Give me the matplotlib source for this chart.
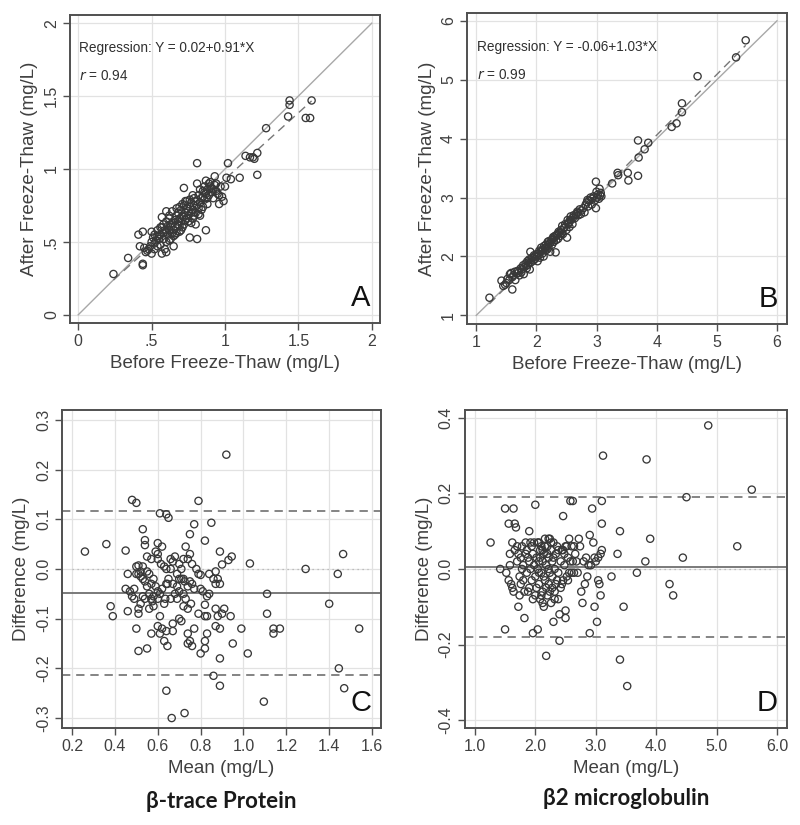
import numpy as np
import matplotlib
matplotlib.use("Agg")
import matplotlib.pyplot as plt

plt.rcParams['font.family'] = ['Liberation Sans', 'DejaVu Sans']

# --- Panel A: beta-trace protein, before vs after freeze-thaw (mg/L)
btp_before = [0.24, 0.34, 0.44, 0.44, 0.41, 0.44, 0.42, 0.45, 0.46, 0.47, 0.48, 0.50, 0.49, 0.50,
              0.51, 0.50, 0.52, 0.52, 0.53, 0.54, 0.54, 0.55, 0.55, 0.56, 0.56, 0.57, 0.57, 0.58,
              0.58, 0.59, 0.59, 0.60, 0.60, 0.60, 0.61, 0.61, 0.62, 0.62, 0.63, 0.63, 0.64, 0.64,
              0.65, 0.65, 0.66, 0.66, 0.67, 0.67, 0.68, 0.68, 0.69, 0.69, 0.70, 0.70, 0.71, 0.71,
              0.72, 0.72, 0.72, 0.73, 0.73, 0.74, 0.74, 0.75, 0.75, 0.76, 0.76, 0.77, 0.77, 0.78,
              0.78, 0.79, 0.79, 0.80, 0.80, 0.81, 0.81, 0.81, 0.82, 0.82, 0.83, 0.83, 0.84, 0.85,
              0.85, 0.86, 0.86, 0.87, 0.87, 0.88, 0.88, 0.89, 0.90, 0.90, 0.91, 0.92, 0.92, 0.93,
              0.94, 0.95, 0.96, 0.97, 0.98, 0.99, 1.00, 1.01, 1.02, 1.04, 1.10, 1.14, 1.17, 1.19,
              1.20, 1.22, 1.22, 1.28, 1.43, 1.44, 1.44, 1.55, 1.58, 1.59, 0.63, 0.65, 0.68, 0.70,
              0.71, 0.74, 0.76, 0.78, 0.80, 0.82, 0.84, 0.86, 0.88, 0.60, 0.58, 0.56, 0.54, 0.52,
              0.62, 0.66, 0.69, 0.73, 0.75, 0.77, 0.79, 0.83, 0.85, 0.89, 0.91, 0.94, 0.96, 0.57,
              0.62, 0.67, 0.72, 0.60, 0.64, 0.69, 0.81, 0.87, 0.93]
btp_after = [0.28, 0.39, 0.35, 0.34, 0.55, 0.57, 0.47, 0.46, 0.43, 0.44, 0.45, 0.42, 0.47, 0.50,
             0.53, 0.57, 0.49, 0.55, 0.51, 0.47, 0.58, 0.52, 0.54, 0.55, 0.48, 0.67, 0.60, 0.56,
             0.62, 0.45, 0.58, 0.43, 0.64, 0.71, 0.61, 0.55, 0.58, 0.66, 0.60, 0.52, 0.63, 0.71,
             0.47, 0.58, 0.65, 0.61, 0.56, 0.68, 0.62, 0.70, 0.57, 0.66, 0.72, 0.64, 0.68, 0.60,
             0.75, 0.67, 0.87, 0.70, 0.65, 0.73, 0.78, 0.68, 0.71, 0.74, 0.53, 0.70, 0.77, 0.72,
             0.66, 0.80, 0.75, 0.70, 0.78, 1.04, 0.52, 0.90, 0.73, 0.82, 0.77, 0.68, 0.80, 0.85,
             0.74, 0.79, 0.84, 0.58, 0.92, 0.86, 0.76, 0.82, 0.88, 0.91, 0.84, 0.80, 0.86, 0.95,
             0.85, 0.83, 0.76, 0.88, 0.81, 0.78, 0.88, 0.94, 1.04, 0.93, 0.94, 1.09, 1.08, 1.08,
             1.07, 1.11, 0.96, 1.28, 1.36, 1.44, 1.47, 1.35, 1.35, 1.47, 0.62, 0.54, 0.64, 0.58,
             0.76, 0.66, 0.79, 0.82, 0.62, 0.69, 0.72, 0.88, 0.80, 0.57, 0.52, 0.60, 0.54, 0.45,
             0.51, 0.55, 0.61, 0.78, 0.64, 0.63, 0.68, 0.86, 0.81, 0.90, 0.87, 0.90, 0.82, 0.42,
             0.68, 0.73, 0.62, 0.50, 0.56, 0.74, 0.75, 0.83, 0.89]
btp_reg = (0.02, 0.91)
btp_r = 0.94

# --- Panel B: beta2 microglobulin, before vs after (mg/L)
b2m_before = [1.22, 1.42, 1.45, 1.48, 1.50, 1.52, 1.55, 1.56, 1.58, 1.60, 1.60, 1.62, 1.64, 1.65,
              1.68, 1.70, 1.72, 1.74, 1.76, 1.78, 1.79, 1.80, 1.82, 1.84, 1.85, 1.86, 1.88, 1.89,
              1.90, 1.91, 1.93, 1.95, 1.97, 1.98, 2.00, 2.02, 2.03, 2.05, 2.06, 2.07, 2.08, 2.10,
              2.11, 2.12, 2.13, 2.15, 2.16, 2.18, 2.19, 2.20, 2.22, 2.23, 2.25, 2.26, 2.28, 2.29,
              2.31, 2.32, 2.33, 2.35, 2.36, 2.38, 2.40, 2.41, 2.43, 2.44, 2.46, 2.48, 2.50, 2.51,
              2.52, 2.54, 2.55, 2.57, 2.58, 2.60, 2.62, 2.64, 2.66, 2.68, 2.70, 2.72, 2.75, 2.78,
              2.80, 2.82, 2.84, 2.86, 2.88, 2.90, 2.92, 2.95, 2.97, 2.99, 2.99, 3.00, 3.02, 3.04,
              3.05, 3.07, 3.08, 3.26, 3.35, 3.36, 3.52, 3.53, 3.69, 3.70, 3.69, 3.80, 3.86, 4.25,
              4.33, 4.42, 4.42, 4.68, 5.32, 5.48, 1.70, 1.75, 1.83, 1.87, 1.92, 1.96, 2.01, 2.04,
              2.09, 2.14, 2.17, 2.21, 2.24, 2.27, 2.30, 2.34, 2.37, 2.42, 2.47, 2.53, 2.56, 2.61,
              2.69, 2.74, 2.85, 2.93, 3.01, 3.06]
b2m_after = [1.30, 1.59, 1.50, 1.52, 1.55, 1.62, 1.60, 1.70, 1.72, 1.44, 1.65, 1.68, 1.74, 1.60,
             1.75, 1.72, 1.68, 1.80, 1.78, 1.85, 1.70, 1.82, 1.88, 1.80, 1.92, 1.86, 1.95, 1.78,
             2.08, 1.90, 1.98, 1.93, 2.00, 1.96, 2.04, 1.92, 2.05, 2.10, 1.98, 2.08, 2.15, 2.05,
             2.12, 2.00, 2.18, 2.10, 2.20, 2.12, 2.25, 2.15, 2.22, 2.08, 2.28, 2.20, 2.33, 2.25,
             2.35, 2.07, 2.28, 2.38, 2.30, 2.40, 2.35, 2.45, 2.52, 2.38, 2.48, 2.55, 2.45, 2.32,
             2.62, 2.58, 2.50, 2.68, 2.62, 2.55, 2.70, 2.65, 2.72, 2.76, 2.70, 2.80, 2.78, 2.82,
             2.75, 2.88, 2.92, 2.85, 2.95, 3.00, 2.88, 3.02, 2.95, 3.27, 2.82, 3.10, 3.05, 2.98,
             3.15, 3.08, 3.02, 3.24, 3.42, 3.38, 3.42, 3.29, 3.37, 3.68, 3.97, 3.82, 3.93, 4.20,
             4.26, 4.45, 4.60, 5.06, 5.38, 5.67, 1.76, 1.73, 1.84, 1.90, 1.94, 2.02, 2.00, 2.02,
             2.10, 2.14, 2.16, 2.26, 2.24, 2.30, 2.32, 2.36, 2.42, 2.40, 2.50, 2.55, 2.62, 2.66,
             2.74, 2.72, 2.96, 2.98, 3.00, 3.04]
b2m_reg = (-0.06, 1.03)
b2m_r = 0.99

# --- Panel C: Bland-Altman, beta-trace protein
btp_mean = [0.26, 0.36, 0.38, 0.39, 0.45, 0.46, 0.45, 0.46, 0.48, 0.50, 0.50, 0.51, 0.55, 0.57,
            0.60, 0.64, 0.665, 0.725, 0.61, 0.64, 0.65, 0.79, 0.92, 0.77, 0.85, 0.53, 0.75, 0.82,
            0.54, 0.54, 0.60, 0.62, 0.73, 0.59, 0.89, 0.945, 0.93, 0.90, 1.03, 1.465, 1.29, 1.44,
            1.40, 1.54, 1.445, 1.47, 1.095, 1.11, 1.11, 1.14, 1.14, 1.17, 0.99, 1.02, 0.95, 0.94,
            0.91, 0.90, 0.87, 0.88, 0.87, 0.89, 0.89, 0.86, 0.89, 0.80, 0.82, 0.82, 0.83, 0.77,
            0.76, 0.75, 0.74, 0.74, 0.70, 0.71, 0.67, 0.67, 0.64, 0.63, 0.645, 0.61, 0.62, 0.61,
            0.58, 0.63, 0.66, 0.69, 0.72, 0.74, 0.755, 0.79, 0.82, 0.83, 0.82, 0.84, 0.83, 0.80,
            0.81, 0.76, 0.75, 0.72, 0.71, 0.725, 0.70, 0.72, 0.70, 0.73, 0.68, 0.67, 0.64, 0.645,
            0.62, 0.60, 0.59, 0.58, 0.57, 0.56, 0.55, 0.54, 0.53, 0.52, 0.51, 0.50, 0.50, 0.51,
            0.52, 0.53, 0.55, 0.56, 0.57, 0.58, 0.60, 0.61, 0.52, 0.51, 0.51, 0.49, 0.48, 0.47,
            0.49, 0.53, 0.54, 0.55, 0.57, 0.60, 0.60, 0.615, 0.63, 0.64, 0.66, 0.68, 0.67, 0.70,
            0.72, 0.74, 0.75, 0.76, 0.78, 0.79, 0.80, 0.84, 0.86, 0.87, 0.87, 0.89, 0.88, 0.65,
            0.66, 0.69, 0.71, 0.74, 0.77, 0.69, 0.635, 0.56, 0.575]
btp_diff = [0.035, 0.05, -0.075, -0.095, 0.037, -0.01, -0.04, -0.085, 0.139, 0.133, -0.12, -0.165,
            -0.16, -0.13, -0.115, -0.245, -0.30, -0.29, 0.112, 0.11, 0.103, 0.137, 0.23, 0.09,
            0.093, 0.08, 0.07, 0.057, 0.058, 0.048, 0.052, 0.045, 0.045, 0.035, 0.035, 0.025,
            0.018, 0.009, 0.011, 0.03, 0.0, -0.01, -0.07, -0.12, -0.20, -0.24, -0.267, -0.05,
            -0.09, -0.13, -0.12, -0.12, -0.12, -0.17, -0.15, -0.095, -0.08, -0.09, -0.08, -0.095,
            -0.115, -0.12, -0.18, -0.215, -0.235, -0.17, -0.16, -0.145, -0.13, -0.12, -0.155,
            -0.145, -0.15, -0.13, -0.10, -0.105, -0.11, -0.125, -0.125, -0.145, -0.155, -0.13,
            -0.12, -0.095, -0.075, -0.07, -0.06, -0.06, -0.075, -0.08, -0.07, -0.09, -0.095,
            -0.095, -0.072, -0.05, -0.055, -0.04, -0.045, -0.03, -0.025, -0.02, -0.02, -0.025,
            -0.02, -0.05, -0.045, -0.06, -0.05, -0.03, -0.03, -0.03, -0.04, -0.045, -0.035, -0.02,
            -0.03, -0.01, -0.005, -0.025, 0.005, -0.005, -0.01, -0.01, 0.005, 0.007, -0.015,
            -0.02, -0.035, -0.05, -0.06, -0.055, -0.06, -0.05, -0.07, -0.08, -0.09, -0.06, -0.055,
            -0.045, -0.04, -0.055, -0.06, 0.025, 0.02, 0.03, 0.02, 0.01, 0.005, 0.0, 0.02, 0.025,
            0.015, 0.01, 0.02, 0.02, 0.03, 0.01, 0.0, -0.01, -0.012, -0.01, -0.02, -0.005, -0.03,
            -0.03, -0.02, -0.02, 0.0, -0.01, 0.0, -0.035, -0.04, -0.035, -0.06, -0.08, -0.065]
btp_bias = -0.049
btp_loa = (0.116, -0.214)

# --- Panel D: Bland-Altman, beta2 microglobulin
b2m_mean = [1.26, 1.42, 1.50, 1.50, 1.52, 1.56, 1.56, 1.58, 1.58, 1.60, 1.62, 1.64, 1.66, 1.68,
            1.62, 1.64, 1.66, 1.70, 1.72, 1.74, 1.74, 1.76, 1.78, 1.80, 1.80, 1.82, 1.82, 1.84,
            1.86, 1.88, 1.90, 1.90, 1.92, 1.92, 1.94, 1.96, 1.96, 1.98, 2.00, 2.00, 2.00, 2.02,
            2.04, 2.04, 2.06, 2.06, 2.08, 2.08, 2.10, 2.10, 2.12, 2.12, 2.14, 2.14, 2.16, 2.16,
            2.18, 2.18, 2.20, 2.20, 2.22, 2.22, 2.24, 2.24, 2.26, 2.26, 2.28, 2.28, 2.30, 2.30,
            2.32, 2.32, 2.34, 2.36, 2.38, 2.38, 2.40, 2.40, 2.42, 2.42, 2.44, 2.46, 2.46, 2.48,
            2.50, 2.50, 2.50, 2.52, 2.54, 2.56, 2.56, 2.58, 2.60, 2.62, 2.62, 2.64, 2.66, 2.68,
            2.70, 2.72, 2.74, 2.76, 2.78, 2.80, 2.82, 2.84, 2.86, 2.88, 2.90, 2.90, 2.92, 2.94,
            2.96, 2.98, 2.98, 3.00, 3.02, 3.04, 3.04, 3.06, 3.08, 3.08, 3.10, 3.10, 3.10, 3.12,
            3.26, 3.36, 3.40, 3.40, 3.46, 3.52, 3.68, 3.82, 3.84, 3.90, 4.22, 4.28, 4.44, 4.50,
            4.86, 5.34, 5.58, 1.70, 1.72, 1.76, 1.78, 1.84, 1.86, 1.88, 1.90, 1.94, 1.98, 2.02,
            2.04, 2.08, 2.10, 2.12, 2.14, 2.16, 2.18, 2.20, 2.22, 2.24, 2.26, 2.28, 2.30, 2.34,
            2.36, 2.38, 2.44, 2.48, 2.52, 2.54, 2.58, 2.60, 2.22, 2.06, 1.96, 2.12, 2.32, 2.46,
            2.64, 2.06]
b2m_diff = [0.07, 0.0, 0.16, -0.16, -0.01, 0.12, -0.03, 0.04, 0.01, -0.04, 0.07, 0.16, 0.12, 0.11,
            -0.05, -0.06, 0.05, 0.06, -0.10, -0.07, -0.02, 0.03, 0.06, 0.01, -0.03, -0.13, -0.06,
            0.07, -0.01, 0.03, 0.10, -0.05, 0.07, 0.0, -0.03, 0.04, -0.17, 0.07, 0.17, -0.02,
            -0.07, 0.03, -0.16, 0.07, -0.04, 0.02, -0.08, 0.05, -0.01, 0.06, -0.06, 0.02, -0.10,
            0.04, 0.08, -0.03, -0.23, 0.01, -0.07, 0.06, 0.03, -0.04, 0.08, -0.01, -0.09, 0.05,
            -0.05, 0.02, -0.14, 0.07, 0.0, -0.06, 0.04, -0.03, -0.08, 0.05, -0.12, -0.19, -0.05,
            0.02, 0.05, 0.14, -0.03, 0.01, -0.11, -0.13, 0.06, -0.02, 0.03, 0.08, -0.01, 0.18,
            0.06, 0.18, 0.02, -0.01, 0.04, 0.02, -0.01, 0.08, 0.06, -0.06, -0.09, 0.02, -0.04,
            0.03, -0.02, 0.01, 0.09, -0.17, 0.01, 0.16, 0.07, 0.03, -0.10, 0.02, -0.14, -0.03,
            0.03, -0.04, -0.07, 0.04, 0.12, 0.18, 0.05, 0.30, -0.02, 0.04, 0.10, -0.24, -0.10,
            -0.31, -0.01, 0.02, 0.29, 0.08, -0.04, -0.07, 0.03, 0.19, 0.38, 0.06, 0.21, 0.02,
            0.04, -0.04, 0.0, 0.04, 0.05, -0.06, 0.02, 0.06, 0.01, -0.05, 0.0, 0.03, -0.07, 0.05,
            -0.02, 0.06, -0.05, 0.04, 0.0, -0.06, 0.07, -0.02, 0.03, -0.04, 0.06, -0.01, -0.04,
            0.04, 0.06, -0.03, 0.02, -0.01, 0.08, 0.07, -0.08, -0.09, -0.08, 0.05, 0.06, -0.01]
b2m_bias = 0.005
b2m_loa = (0.19, -0.18)

MARK = dict(s=27, facecolors='none', edgecolors='#383838', linewidths=0.95, zorder=3)
FRAME = '#505050'
TICK_FS = 11.5
LAB_FS = 13.5


def style_axes(ax):
    for sp in ax.spines.values():
        sp.set_color(FRAME)
        sp.set_linewidth(1.4)
    ax.grid(True, color='#e2e2e2', linewidth=0.9, zorder=0)
    ax.set_axisbelow(True)
    ax.tick_params(direction='out', length=5, width=1, color=FRAME,
                   labelsize=TICK_FS, labelcolor='#404040', pad=3)
    for lab in ax.get_yticklabels():
        lab.set_rotation(90)
        lab.set_va('center')


def scatter_panel(ax, x, y, reg, r, ticks, ticklabels, lim, letter):
    ax.plot(lim, lim, color='#a8a8a8', lw=1.0, zorder=2)
    xs = np.array([min(x), max(x)])
    ax.plot(xs, reg[0] + reg[1] * xs, color='#777777', lw=1.0, ls=(0, (6, 4)), zorder=2)
    ax.scatter(x, y, **MARK)
    ax.set_xticks(ticks, ticklabels)
    ax.set_yticks(ticks, ticklabels)
    pad = (lim[1] - lim[0]) * 0.028
    ax.set_xlim(lim[0] - pad, lim[1] + pad)
    ax.set_ylim(lim[0] - pad, lim[1] + pad)
    ax.set_xlabel('Before Freeze-Thaw (mg/L)', fontsize=LAB_FS, color='#404040', labelpad=4)
    ax.set_ylabel('After Freeze-Thaw (mg/L)', fontsize=LAB_FS, color='#404040', labelpad=4)
    sign = '+' if reg[1] >= 0 else '-'
    ax.text(0.03, 0.88, f'Regression: Y = {reg[0]:.2f}{sign}{reg[1]:.2f}*X',
            transform=ax.transAxes, fontsize=9.8, color='#303030')
    ax.text(0.03, 0.79, f'$r$ = {r:.2f}', transform=ax.transAxes, fontsize=9.8, color='#303030')
    ax.text(0.97, 0.035, letter, transform=ax.transAxes, fontsize=21,
            ha='right', va='bottom', color='#111111')
    style_axes(ax)


def ba_panel(ax, x, y, bias, loa, xticks, yticks, xlim, ylim, letter, title, title_y):
    ax.axhline(0, xmin=0.03, xmax=0.96, color='#b0b0b0', lw=0.9, ls=(0, (1, 3)), zorder=2)
    ax.axhline(bias, color='#707070', lw=1.3, zorder=2)
    for v in loa:
        ax.axhline(v, color='#707070', lw=1.2, ls=(0, (5, 3.5)), zorder=2)
    ax.scatter(x, y, **MARK)
    ax.set_xticks(xticks, [f'{t:.1f}' for t in xticks])
    ax.set_yticks(yticks, [f'{t:.1f}' for t in yticks])
    ax.set_xlim(*xlim)
    ax.set_ylim(*ylim)
    ax.set_xlabel('Mean (mg/L)', fontsize=LAB_FS, color='#404040', labelpad=4)
    ax.set_ylabel('Difference (mg/L)', fontsize=LAB_FS, color='#404040', labelpad=4)
    ax.text(0.97, 0.035, letter, transform=ax.transAxes, fontsize=21,
            ha='right', va='bottom', color='#111111')
    style_axes(ax)
    ax.text(0.5, title_y, title, transform=ax.transAxes, ha='center', va='center',
            fontsize=16, fontweight='bold', family=['Lato', 'DejaVu Sans'], color='#1a1a1a')


fig = plt.figure(figsize=(8, 8.25), dpi=100)
axA = fig.add_axes([0.0875, 0.6085, 0.3875, 0.3733])
axB = fig.add_axes([0.584, 0.607, 0.400, 0.377])
axC = fig.add_axes([0.0775, 0.1176, 0.3988, 0.3855])
axD = fig.add_axes([0.581, 0.1176, 0.403, 0.3855])

scatter_panel(axA, btp_before, btp_after, btp_reg, btp_r,
              [0, 0.5, 1, 1.5, 2], ['0', '.5', '1', '1.5', '2'], (0, 2), 'A')
scatter_panel(axB, b2m_before, b2m_after, b2m_reg, b2m_r,
              [1, 2, 3, 4, 5, 6], ['1', '2', '3', '4', '5', '6'], (1, 6), 'B')
axB.set_xlim(0.85, 6.17)
axB.set_ylim(0.85, 6.13)

ba_panel(axC, btp_mean, btp_diff, btp_bias, btp_loa,
         [0.2, 0.4, 0.6, 0.8, 1.0, 1.2, 1.4, 1.6], [-0.3, -0.2, -0.1, 0.0, 0.1, 0.2, 0.3],
         (0.153, 1.642), (-0.32, 0.32), 'C', 'β-trace Protein', -0.232)
ba_panel(axD, b2m_mean, b2m_diff, b2m_bias, b2m_loa,
         [1.0, 2.0, 3.0, 4.0, 5.0, 6.0], [-0.4, -0.2, 0.0, 0.2, 0.4],
         (0.834, 6.166), (-0.421, 0.421), 'D', 'β2 microglobulin', -0.222)

fig.savefig('out.png', dpi=100, facecolor='white')
